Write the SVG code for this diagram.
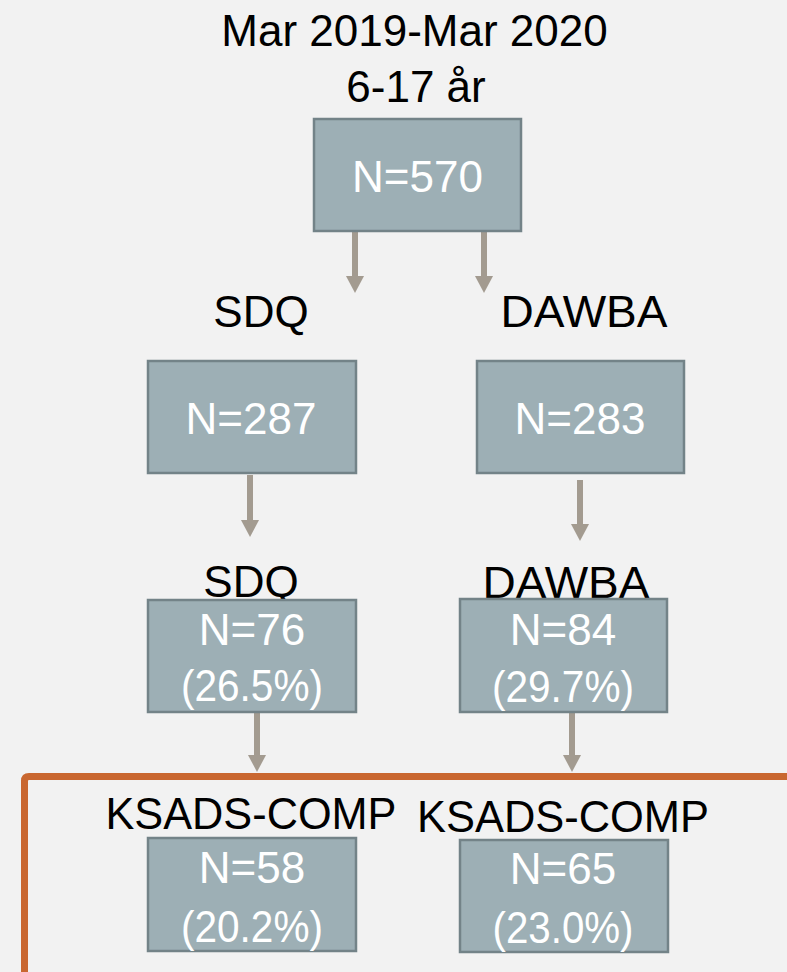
<svg xmlns="http://www.w3.org/2000/svg" width="787" height="972" viewBox="0 0 787 972">
<style>
.lbl{font-family:"Liberation Sans",Arial,sans-serif;font-size:44px;fill:#000;text-anchor:middle}
.num{font-family:"Liberation Sans",Arial,sans-serif;font-size:44px;fill:#fff;text-anchor:middle}
.box{fill:#9DAFB5;stroke:#738388;stroke-width:2.5}
.arr{stroke:#A39B90;stroke-width:6;fill:none;marker-end:url(#ah)}
</style>
<defs>
<marker id="ah" viewBox="0 0 17 18" refX="7" refY="9" markerWidth="17" markerHeight="18" markerUnits="userSpaceOnUse" orient="auto">
<path d="M0,0 L17,9 L0,18 z" fill="#A39B90"/>
</marker>
</defs>
<rect x="0" y="0" width="787" height="972" fill="#F2F2F2"/>
<g id="title">
<text class="lbl" x="414.5" y="46">Mar 2019-Mar 2020</text>
<text class="lbl" x="416" y="102">6-17 år</text>
</g>
<g id="label-sdq-1"><text class="lbl" x="261" y="327">SDQ</text></g>
<g id="label-dawba-1"><text class="lbl" x="584" y="327" textLength="167" lengthAdjust="spacingAndGlyphs">DAWBA</text></g>
<g id="label-sdq-2"><text class="lbl" x="251" y="597">SDQ</text></g>
<g id="label-dawba-2"><text class="lbl" x="566" y="598" textLength="167" lengthAdjust="spacingAndGlyphs">DAWBA</text></g>
<g id="label-ksads-1"><text class="lbl" x="251" y="829" textLength="291" lengthAdjust="spacingAndGlyphs">KSADS-COMP</text></g>
<g id="label-ksads-2"><text class="lbl" x="563" y="832" textLength="292" lengthAdjust="spacingAndGlyphs">KSADS-COMP</text></g>
<g id="connectors">
<line class="arr" x1="355" y1="231" x2="355" y2="283"/>
<line class="arr" x1="484" y1="231" x2="484" y2="283"/>
<line class="arr" x1="250" y1="475" x2="250" y2="527"/>
<line class="arr" x1="580" y1="480" x2="580" y2="531"/>
<line class="arr" x1="257" y1="713" x2="257" y2="762"/>
<line class="arr" x1="572" y1="713" x2="572" y2="762"/>
</g>
<g id="node-570">
<rect class="box" x="314" y="119" width="207" height="112"/>
<text class="num" x="417.5" y="192">N=570</text>
</g>
<g id="node-287">
<rect class="box" x="148" y="361" width="208" height="112"/>
<text class="num" x="251" y="434">N=287</text>
</g>
<g id="node-283">
<rect class="box" x="477" y="361" width="207" height="112"/>
<text class="num" x="580" y="434">N=283</text>
</g>
<g id="node-76">
<rect class="box" x="148" y="600" width="208" height="112"/>
<text class="num" x="252" y="645">N=76</text>
<text class="num" x="252" y="701" textLength="142" lengthAdjust="spacingAndGlyphs">(26.5%)</text>
</g>
<g id="node-84">
<rect class="box" x="460" y="599" width="207" height="113"/>
<text class="num" x="563" y="645">N=84</text>
<text class="num" x="563" y="702" textLength="142" lengthAdjust="spacingAndGlyphs">(29.7%)</text>
</g>
<g id="node-58">
<rect class="box" x="148" y="838" width="208" height="113"/>
<text class="num" x="252" y="883">N=58</text>
<text class="num" x="252" y="942" textLength="142" lengthAdjust="spacingAndGlyphs">(20.2%)</text>
</g>
<g id="node-65">
<rect class="box" x="460" y="840" width="208" height="112"/>
<text class="num" x="563" y="884">N=65</text>
<text class="num" x="563" y="943" textLength="141" lengthAdjust="spacingAndGlyphs">(23.0%)</text>
</g>
<g id="frame">
<path d="M24.5,980 V781 Q24.5,776.5 29,776.5 H800" fill="none" stroke="#C96730" stroke-width="7"/>
</g>
</svg>
